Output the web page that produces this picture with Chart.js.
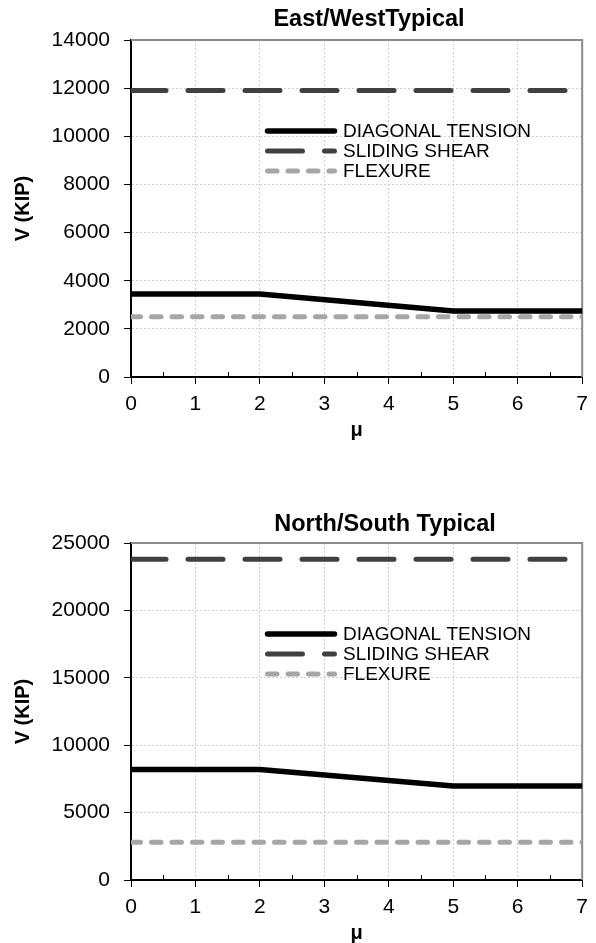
<!DOCTYPE html>
<html>
<head>
<meta charset="utf-8">
<script src="https://cdn.jsdelivr.net/npm/chart.js@4.4.1/dist/chart.umd.min.js"></script>
<style>
  html, body { margin: 0; padding: 0; background: #ffffff; }
  .panel { position: absolute; left: 0; width: 596px; height: 440px; }
  #panelEW { top: 0; }
  #panelNS { top: 503px; }
</style>
</head>
<body>
<div class="panel" id="panelEW"><canvas id="chartEW"></canvas></div>
<div class="panel" id="panelNS"><canvas id="chartNS"></canvas></div>
<script>
// Ductility demand (mu) break points and the capacity curves of each wall group
const muBreaks = [0, 2, 5, 7];
const muRange = [0, 7];
const muTicks = [0, 1, 2, 3, 4, 5, 6, 7];

const ewDiagonalTension = [3450, 3450, 2740, 2740];
const ewSlidingShear = [11900, 11900];
const ewFlexure = [2500, 2500];
const ewTicks = [0, 2000, 4000, 6000, 8000, 10000, 12000, 14000];

const nsDiagonalTension = [8200, 8200, 6980, 6980];
const nsSlidingShear = [23800, 23800];
const nsFlexure = [2800, 2800];
const nsTicks = [0, 5000, 10000, 15000, 20000, 25000];

const seriesNames = ['DIAGONAL TENSION', 'SLIDING SHEAR', 'FLEXURE'];
const chartTitles = ['East/WestTypical', 'North/South Typical'];
const xAxisTitle = 'μ';
const yAxisTitle = 'V (KIP)';

const FONT = "'Liberation Sans', Arial, sans-serif";

function points(xs, ys) {
  return xs.map((x, i) => ({ x: x, y: ys[i] }));
}

// Gray frame on the top and right of the plot area
const framePlugin = {
  id: 'frame',
  beforeDatasetsDraw(chart) {
    const a = chart.chartArea, ctx = chart.ctx;
    ctx.save();
    ctx.strokeStyle = '#8a8a8a';
    ctx.lineWidth = 2;
    ctx.beginPath();
    ctx.moveTo(a.left, a.top);
    ctx.lineTo(a.right, a.top);
    ctx.lineTo(a.right, a.bottom);
    ctx.stroke();
    ctx.restore();
  }
};

// Short minor ticks between the whole-number mu values
const minorTickPlugin = {
  id: 'minorTicks',
  afterDatasetsDraw(chart) {
    const xs = chart.scales.x, a = chart.chartArea, ctx = chart.ctx;
    ctx.save();
    ctx.strokeStyle = '#000';
    ctx.lineWidth = 1;
    ctx.beginPath();
    for (let i = 0; i < muTicks.length - 1; i++) {
      const px = Math.round(xs.getPixelForValue((muTicks[i] + muTicks[i + 1]) / 2)) + 0.5;
      ctx.moveTo(px, a.bottom);
      ctx.lineTo(px, a.bottom - 5);
    }
    ctx.stroke();
    ctx.restore();
  }
};

// Legend drawn inside the plot area
const innerLegendPlugin = {
  id: 'innerLegend',
  afterDatasetsDraw(chart, args, opts) {
    const ctx = chart.ctx;
    ctx.save();
    chart.data.datasets.forEach((ds, i) => {
      const y = opts.y + i * opts.rowGap;
      ctx.strokeStyle = ds.borderColor;
      ctx.lineWidth = ds.borderWidth;
      ctx.lineCap = 'round';
      ctx.setLineDash(ds.borderDash || []);
      ctx.beginPath();
      ctx.moveTo(opts.x, y);
      ctx.lineTo(opts.x + opts.sampleWidth, y);
      ctx.stroke();
      ctx.setLineDash([]);
      ctx.fillStyle = '#000';
      ctx.font = '19px ' + FONT;
      ctx.textAlign = 'left';
      ctx.textBaseline = 'middle';
      ctx.fillText(ds.label, opts.x + opts.sampleWidth + 8.5, y + 0.5);
    });
    ctx.restore();
  }
};

// Chart heading
const headingPlugin = {
  id: 'heading',
  afterDraw(chart, args, opts) {
    const ctx = chart.ctx;
    ctx.save();
    ctx.fillStyle = '#000';
    ctx.font = 'bold 23.5px ' + FONT;
    ctx.textAlign = 'center';
    ctx.textBaseline = 'middle';
    ctx.fillText(opts.text, opts.x, opts.y);
    ctx.restore();
  }
};

function makeChart(canvasId, title, titleX, titleY, diag, slide, flex, yTicks) {
  const yMax = yTicks[yTicks.length - 1];
  return new Chart(document.getElementById(canvasId), {
    type: 'line',
    data: {
      datasets: [
        {
          label: seriesNames[0],
          data: points(muBreaks, diag),
          borderColor: '#000000',
          borderWidth: 5.5,
          borderCapStyle: 'round',
          borderJoinStyle: 'round',
          pointRadius: 0,
          tension: 0,
          fill: false
        },
        {
          label: seriesNames[1],
          data: points(muRange, slide),
          borderColor: '#404040',
          borderWidth: 5,
          borderDash: [35, 22],
          borderCapStyle: 'round',
          pointRadius: 0,
          tension: 0,
          fill: false
        },
        {
          label: seriesNames[2],
          data: points(muRange, flex),
          borderColor: '#a6a6a6',
          borderWidth: 5,
          borderDash: [9.5, 11],
          borderCapStyle: 'round',
          pointRadius: 0,
          tension: 0,
          fill: false
        }
      ]
    },
    options: {
      responsive: true,
      maintainAspectRatio: false,
      devicePixelRatio: 1,
      animation: false,
      events: [],
      layout: { padding: { top: 40, right: 12, left: 0, bottom: 0 } },
      scales: {
        x: {
          type: 'linear',
          min: muRange[0],
          max: muRange[1],
          afterBuildTicks: (s) => { s.ticks = muTicks.map(v => ({ value: v })); },
          afterFit: (s) => { s.height = 63; },
          grid: {
            color: '#cfcfcf',
            lineWidth: 1,
            drawTicks: true,
            tickLength: 7,
            tickColor: '#000',
            tickWidth: 1
          },
          border: { display: true, color: '#000', width: 2, dash: [2, 2] },
          ticks: {
            color: '#000',
            font: { family: FONT, size: 21 },
            padding: 8,
            maxRotation: 0,
            callback: (v) => String(v)
          },
          title: {
            display: true,
            text: xAxisTitle,
            color: '#000',
            font: { family: FONT, size: 20, weight: 'bold', lineHeight: 1 },
            padding: { top: 0, bottom: 0 }
          }
        },
        y: {
          type: 'linear',
          min: 0,
          max: yMax,
          afterBuildTicks: (s) => { s.ticks = yTicks.map(v => ({ value: v })); },
          afterFit: (s) => { s.width = 131; },
          grid: {
            color: '#cfcfcf',
            lineWidth: 1,
            drawTicks: true,
            tickLength: 7,
            tickColor: '#000',
            tickWidth: 1
          },
          border: { display: true, color: '#000', width: 2, dash: [2, 2] },
          ticks: {
            color: '#000',
            font: { family: FONT, size: 21 },
            padding: 14,
            callback: (v) => String(v)
          },
          title: {
            display: true,
            text: yAxisTitle,
            color: '#000',
            font: { family: FONT, size: 20, weight: 'bold', lineHeight: 1.2 },
            padding: { top: 11, bottom: 0 }
          }
        }
      },
      plugins: {
        legend: { display: false },
        tooltip: { enabled: false },
        title: { display: false },
        innerLegend: { x: 267.5, y: 131, rowGap: 20, sampleWidth: 67 },
        heading: { text: title, x: titleX, y: titleY }
      }
    },
    plugins: [framePlugin, minorTickPlugin, innerLegendPlugin, headingPlugin]
  });
}

makeChart('chartEW', chartTitles[0], 369, 20, ewDiagonalTension, ewSlidingShear, ewFlexure, ewTicks);
makeChart('chartNS', chartTitles[1], 385, 22, nsDiagonalTension, nsSlidingShear, nsFlexure, nsTicks);
</script>
</body>
</html>
